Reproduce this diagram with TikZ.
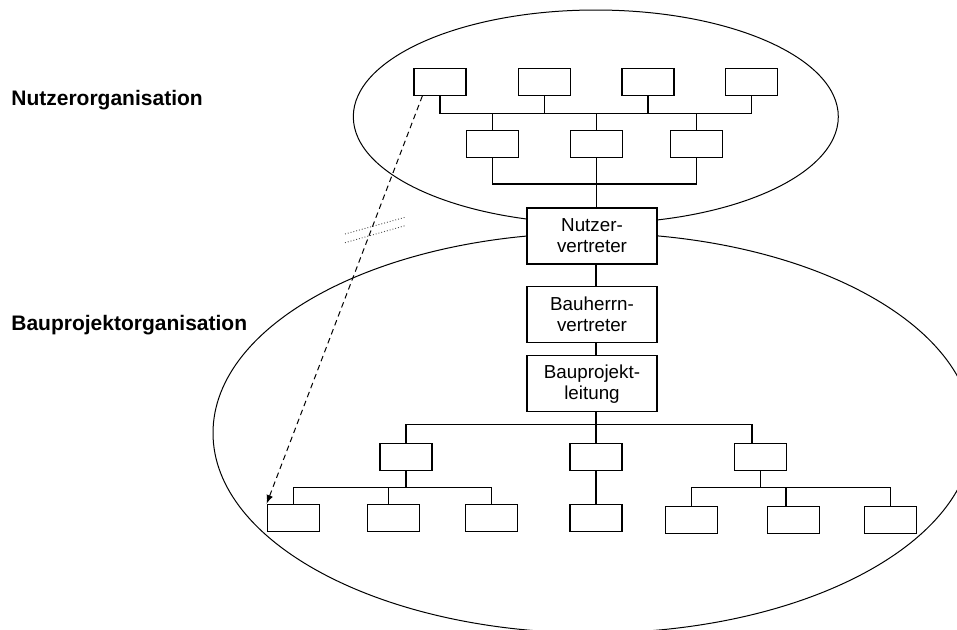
\documentclass[tikz,border=0pt]{standalone}
\usepackage{fontspec}
\setmainfont{Liberation Sans}
\usetikzlibrary{arrows}

\begin{document}
\begin{tikzpicture}[x=0.5pt, y=-0.5pt,
  box/.style={draw, fill=white, line width=.65pt, minimum width=26pt, minimum height=13.5pt, inner sep=0pt},
  bigbox/.style={box, minimum width=65pt, minimum height=28pt, align=center, font=\fontsize{9.4}{10.5}\selectfont},
  tie/.style={line width=.65pt},
  orgline/.style={line width=.5pt},
  group/.style={font=\bfseries\fontsize{10.5}{12.6}\selectfont, anchor=base west, inner sep=0pt},
  link/.style={line width=.5pt, dash pattern=on 2.8pt off 2pt, ->, >=latex},
  breakmark/.style={line width=.45pt, black!70, densely dotted}]
\clip (0,0) rectangle (957,629);
% the two organisations
\draw[orgline] (595.8,116.7) ellipse [x radius=242.5, y radius=106.7];
\draw[orgline] (593,433) ellipse [x radius=380, y radius=200];
\node[group] (nutzorg) at (11,105) {Nutzerorganisation};
\node[group] (bauorg) at (11,330) {Bauprojektorganisation};

% helper lines
\coordinate (spine) at (596,0);
\coordinate (tbus) at (0,113.3);
\coordinate (mbus) at (0,184);
\coordinate (lbus) at (0,424.7);
\coordinate (bbus) at (0,487.3);

% Nutzerorganisation
\node[box] (t1) at (440,81.8) {};
\node[box] (t2) at (544.3,81.8) {};
\node[box] (t3) at (648,81.8) {};
\node[box] (t4) at (751.7,81.8) {};
\node[box] (m1) at (492.3,144.2) {};
\node[box] (m2) at (596.3,144.2) {};
\node[box] (m3) at (696.5,144.2) {};

\draw[tie] (t1.south) |- (t4.south |- tbus) -- (t4.south);
\foreach \t in {t2,t3} \draw[tie] (\t.south) -- (\t.south |- tbus);
\foreach \m in {m1,m2,m3} \draw[tie] (\m.north) -- (\m.north |- tbus);
\draw[tie] (m1.south) |- (m3.south |- mbus) -- (m3.south);

% the line of command
\node[bigbox] (nv) at (592,236) {Nutzer-\\vertreter};
\node[bigbox] (bv) at (592,314.7) {Bauherrn-\\vertreter};
\node[bigbox] (bpl) at (592,383.7) {Bauprojekt-\\leitung};

\draw[tie] (m2.south) -- (m2.south |- nv.north);
\draw[tie] (nv.south -| spine) -- (bv.north -| spine);
\draw[tie] (bv.south -| spine) -- (bpl.north -| spine);

% Bauprojektorganisation
\node[box] (l1) at (406,456.8) {};
\node[box] (l2) at (596,456.8) {};
\node[box] (l3) at (760.5,456.8) {};
\node[box] (b1) at (293.3,517.8) {};
\node[box] (b2) at (393.3,517.8) {};
\node[box] (b3) at (491.5,517.8) {};
\node[box] (b4) at (596,517.8) {};
\node[box] (c1) at (691.3,520) {};
\node[box] (c2) at (793.3,520) {};
\node[box] (c3) at (890.3,520) {};
\coordinate (l3top) at ([xshift=-4.25pt]l3.north);
\coordinate (b2top) at ([xshift=-2.5pt]b2.north);
\coordinate (c2top) at ([xshift=-3.65pt]c2.north);

\draw[tie] (bpl.south -| spine) -- (l2.north);
\draw[tie] (l1.north) |- (l3top |- lbus) -- (l3top);
\draw[tie] (b1.north) |- (b3.north |- bbus) -- (b3.north);
\draw[tie] (b2top) -- (b2top |- bbus);
\draw[tie] (l1.south) -- (l1.south |- bbus);
\draw[tie] (l2.south) -- (b4.north);
\draw[tie] (c1.north) |- (c3.north |- bbus) -- (c3.north);
\draw[tie] (c2top) -- (c2top |- bbus);
\draw[tie] (l3.south) -- (l3.south |- bbus);

% cross link between the two organisations
\draw[link] ([xshift=4.5pt]t1.south west) -- (b1.north west);
\draw[breakmark] (345,234) -- (405,217.3);
\draw[breakmark] (345,242.7) -- (405,225.7);
\end{tikzpicture}
\end{document}
